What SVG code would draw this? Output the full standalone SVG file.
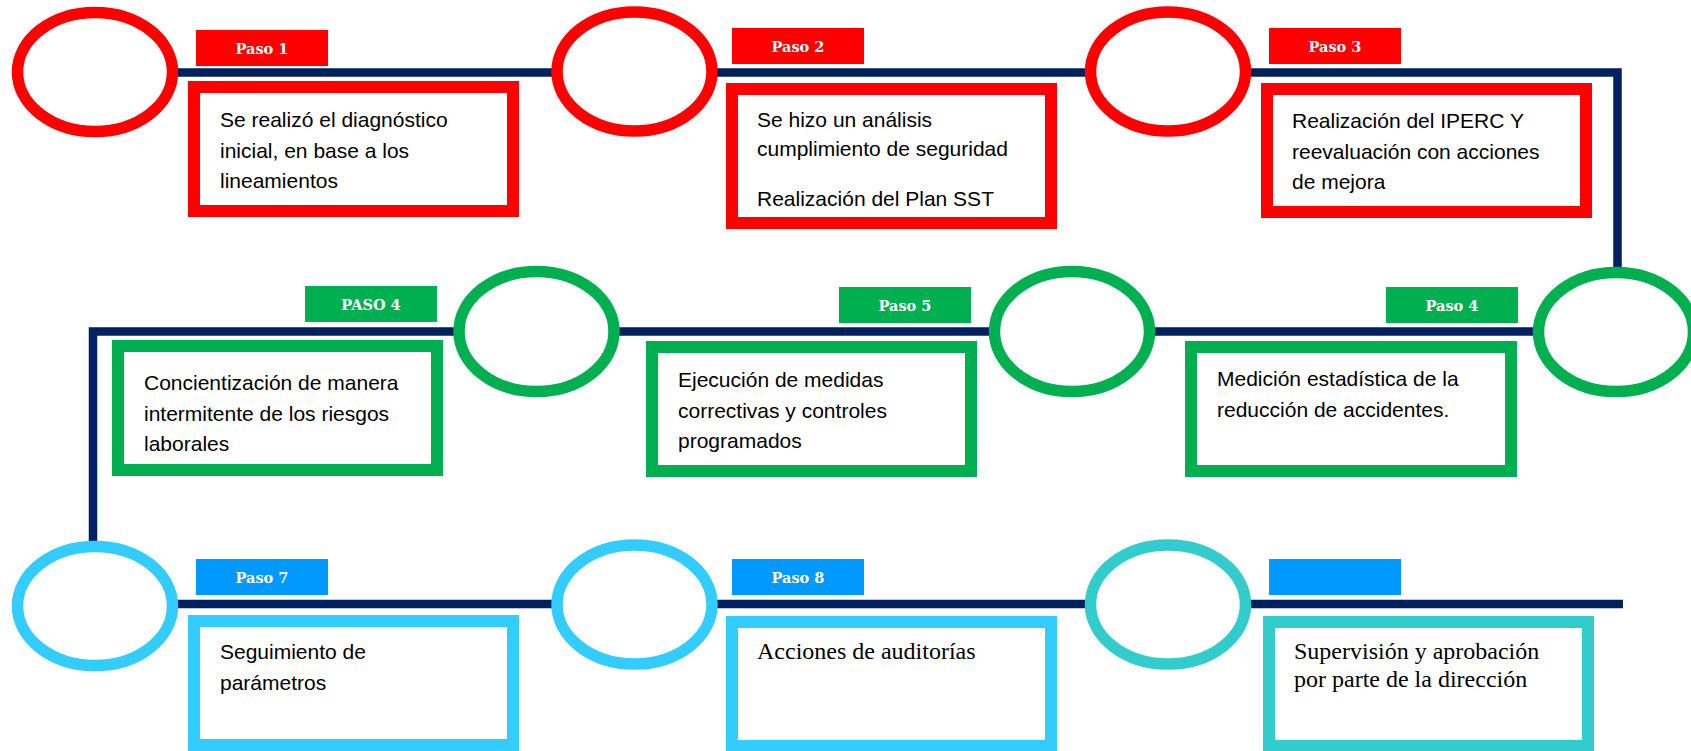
<svg xmlns="http://www.w3.org/2000/svg" width="1691" height="751" viewBox="0 0 1691 751">
<style>
.ring{fill:#fff;stroke-width:11.5}
.box{fill:#fff;stroke-width:12}
.red{stroke:#FF0000}.grn{stroke:#00B050}.blu{stroke:#33CCFF}.teal{stroke:#33CCCC}
.lbl{font-family:"DejaVu Serif",serif;font-weight:bold;font-size:14.5px;fill:#fff;text-anchor:middle}
.t{font-family:"Liberation Sans",Arial,sans-serif;font-size:21px;fill:#000}
.s{font-family:"Liberation Serif","Times New Roman",serif;font-size:24px;fill:#000}
</style>
<rect width="1691" height="751" fill="#fff"/>
<g id="connectors">
<path d="M95 72.5H1617.5V331.5H93V604H1623" fill="none" stroke="#002060" stroke-width="8.5" stroke-linejoin="miter"/>
</g>
<g id="step1">
<ellipse class="ring red" cx="95" cy="72" rx="77.5" ry="59.5"/>
<rect x="196" y="30" width="132" height="36" fill="#FF0000"/>
<text class="lbl" x="262" y="54">Paso 1</text>
<rect class="box red" x="194" y="87" width="319" height="124"/>
<text class="t" x="220" y="127">Se realizó el diagnóstico</text>
<text class="t" x="220" y="158">inicial, en base a los</text>
<text class="t" x="220" y="188">lineamientos</text>
</g>
<g id="step2">
<ellipse class="ring red" cx="634.5" cy="71.5" rx="77.5" ry="59.5"/>
<rect x="732" y="28" width="132" height="36" fill="#FF0000"/>
<text class="lbl" x="798" y="52">Paso 2</text>
<rect class="box red" x="732" y="89" width="319" height="134"/>
<text class="t" x="757" y="127">Se hizo un análisis</text>
<text class="t" x="757" y="156">cumplimiento de seguridad</text>
<text class="t" x="757" y="206">Realización del Plan SST</text>
</g>
<g id="step3">
<ellipse class="ring red" cx="1168" cy="71.5" rx="77.5" ry="59.5"/>
<rect x="1269" y="28" width="132" height="36" fill="#FF0000"/>
<text class="lbl" x="1335" y="52">Paso 3</text>
<rect class="box red" x="1267" y="89" width="319" height="123"/>
<text class="t" x="1292" y="128">Realización del IPERC Y</text>
<text class="t" x="1292" y="159">reevaluación con acciones</text>
<text class="t" x="1292" y="189">de mejora</text>
</g>
<g id="step4">
<ellipse class="ring grn" cx="536.5" cy="331.5" rx="77.5" ry="60"/>
<rect x="305" y="286" width="132" height="36" fill="#00B050"/>
<text class="lbl" x="371" y="310">PASO 4</text>
<rect class="box grn" x="118" y="346" width="319" height="124"/>
<text class="t" x="144" y="390">Concientización de manera</text>
<text class="t" x="144" y="420.5">intermitente de los riesgos</text>
<text class="t" x="144" y="451">laborales</text>
</g>
<g id="step5">
<ellipse class="ring grn" cx="1072" cy="331.5" rx="77.5" ry="60"/>
<rect x="839" y="287" width="132" height="36" fill="#00B050"/>
<text class="lbl" x="905" y="311">Paso 5</text>
<rect class="box grn" x="652" y="347" width="319" height="124"/>
<text class="t" x="678" y="387">Ejecución de medidas</text>
<text class="t" x="678" y="417.5">correctivas y controles</text>
<text class="t" x="678" y="448">programados</text>
</g>
<g id="step6">
<ellipse class="ring grn" cx="1616" cy="332" rx="77.5" ry="59.5"/>
<rect x="1386" y="287" width="132" height="36" fill="#00B050"/>
<text class="lbl" x="1452" y="311">Paso 4</text>
<rect class="box grn" x="1191" y="347" width="320" height="124"/>
<text class="t" x="1217" y="386">Medición estadística de la</text>
<text class="t" x="1217" y="417">reducción de accidentes.</text>
</g>
<g id="step7">
<ellipse class="ring blu" cx="95" cy="606" rx="77.5" ry="59.5"/>
<rect x="196" y="559" width="132" height="36" fill="#0099FF"/>
<text class="lbl" x="262" y="583">Paso 7</text>
<rect class="box blu" x="194" y="621" width="319" height="124"/>
<text class="t" x="220" y="659">Seguimiento de</text>
<text class="t" x="220" y="690">parámetros</text>
</g>
<g id="step8">
<ellipse class="ring blu" cx="634.5" cy="604.5" rx="77.5" ry="59.5"/>
<rect x="732" y="559" width="132" height="36" fill="#0099FF"/>
<text class="lbl" x="798" y="583">Paso 8</text>
<rect class="box blu" x="732" y="622" width="319" height="124"/>
<text class="s" x="757" y="659">Acciones de auditorías</text>
</g>
<g id="step9">
<ellipse class="ring teal" cx="1168" cy="604.5" rx="77.5" ry="59.5"/>
<rect x="1269" y="559" width="132" height="36" fill="#0099FF"/>
<rect class="box teal" x="1269" y="622" width="319" height="124"/>
<text class="s" x="1294" y="659">Supervisión y aprobación</text>
<text class="s" x="1294" y="687">por parte de la dirección</text>
</g>
</svg>
